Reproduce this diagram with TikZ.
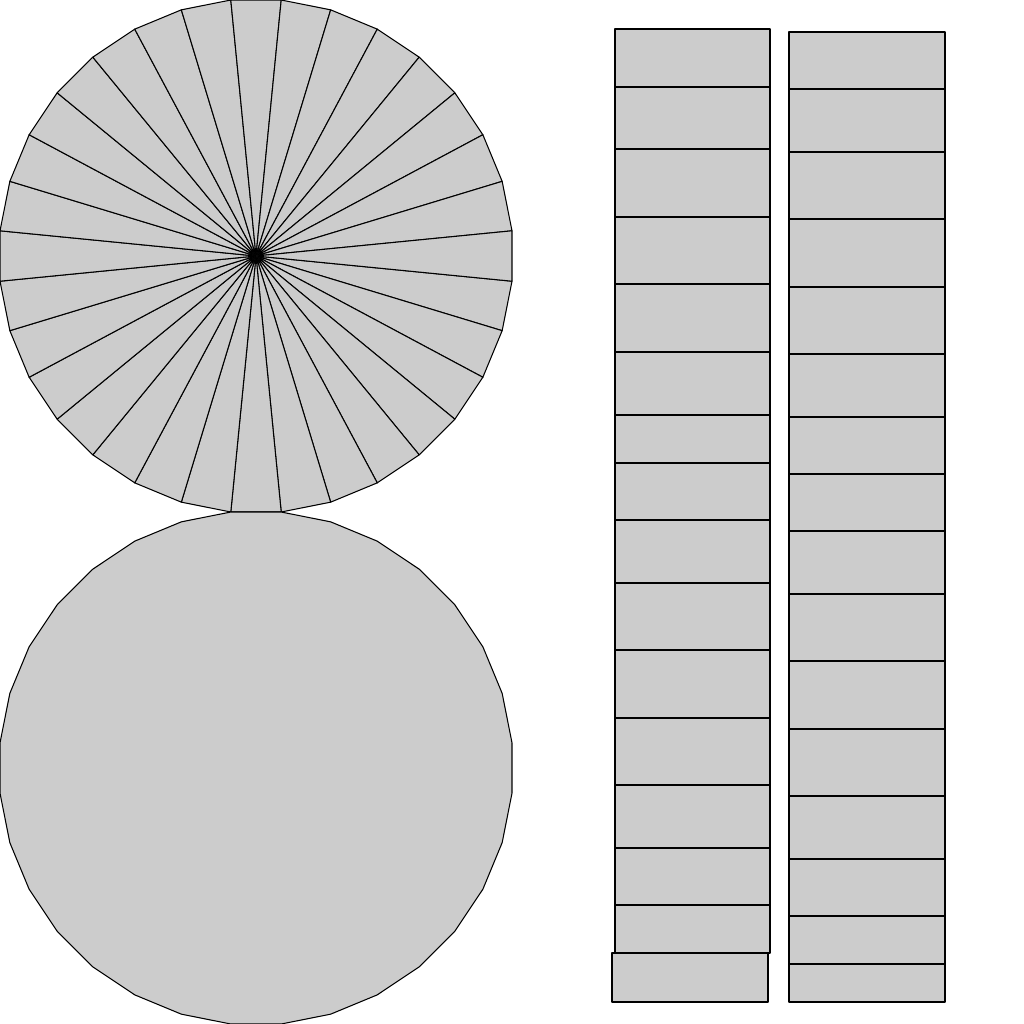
\documentclass[tikz,border=0pt]{standalone}
\usepackage{tikz}

\begin{document}
\begin{tikzpicture}[x=0.01cm,y=-0.01cm,
		panel/.style={fill=black!20, draw=black, line width=0.3pt, line join=round}]
		\useasboundingbox (0,0) rectangle (1024,1024);

		% upper polygon cut into sectors
		\foreach \k in {0,...,31}
			\filldraw[panel] (256,256) -- +({11.25*\k+5.625}:257.24) -- +({11.25*\k+16.875}:257.24) -- cycle;

		% lower polygon
		\filldraw[panel] plot[samples at={0,...,31}] ({256+257.24*cos(11.25*\x+5.625)},{768+257.24*sin(11.25*\x+5.625)}) -- cycle;

		% left strip
		\foreach \ya/\yb in {29/87, 87/149, 149/217, 217/284, 284/352, 352/415, 415/463, 463/520,
				520/583, 583/650, 650/718, 718/785, 785/848, 848/905, 905/953}
			\filldraw[panel] (615,\ya) rectangle (770,\yb);
		\filldraw[panel] (612,953) rectangle (768,1002);

		% right strip
		\foreach \ya/\yb in {32/89, 89/152, 152/219, 219/287, 287/354, 354/417, 417/474, 474/531,
				531/594, 594/661, 661/729, 729/796, 796/859, 859/916, 916/964, 964/1002}
			\filldraw[panel] (789,\ya) rectangle (945,\yb);
	\end{tikzpicture}
\end{document}
